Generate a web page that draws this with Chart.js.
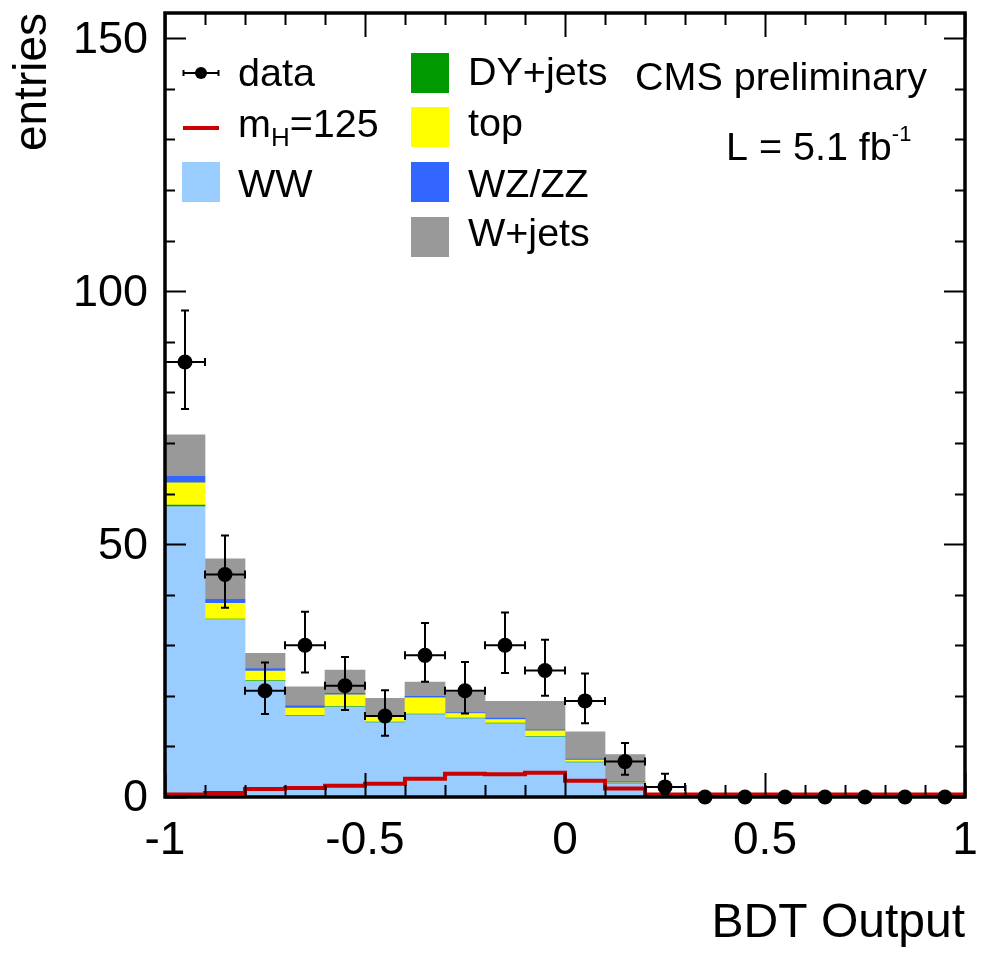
<!DOCTYPE html>
<html>
<head>
<meta charset="utf-8">
<title>BDT Output</title>
<script src="https://cdn.jsdelivr.net/npm/chart.js@4.4.1/dist/chart.umd.min.js"></script>
<style>
  html, body { margin: 0; padding: 0; background: #ffffff; }
  canvas { display: block; }
</style>
</head>
<body>
<canvas id="bdt" width="985" height="953"></canvas>
<script>
// ---- histogram contents: 20 bins of BDT output, width 0.1 ----
const binCenters = [-0.95, -0.85, -0.75, -0.65, -0.55, -0.45, -0.35, -0.25, -0.15, -0.05,
                     0.05,  0.15,  0.25,  0.35,  0.45,  0.55,  0.65,  0.75,  0.85,  0.95];
const binWidth = 0.1;

// observed events and their asymmetric (Poisson) uncertainties
const dataCounts  = [86, 44, 21, 30, 22, 16, 28, 21, 30, 25, 19, 7, 2, 0, 0, 0, 0, 0, 0, 0];
const dataErrUp   = [10.2, 7.7, 5.6, 6.6, 5.7, 5.1, 6.4, 5.7, 6.5, 6.1, 5.4, 3.7, 2.6, 0, 0, 0, 0, 0, 0, 0];
const dataErrDown = [9.3, 6.6, 4.6, 5.4, 4.8, 3.9, 5.2, 4.5, 5.5, 5.0, 4.4, 2.6, 1.4, 0, 0, 0, 0, 0, 0, 0];

// stacked backgrounds (bottom to top)
const wwBkg    = [57.4, 35.1, 22.9, 16.0, 17.8, 14.7, 16.3, 15.5, 14.5, 11.9, 6.8, 2.5, 0.2, 0, 0, 0, 0, 0, 0, 0];
const dyJets   = [0.3, 0.1, 0.1, 0.1, 0.1, 0.1, 0.1, 0.1, 0.1, 0.1, 0.1, 0.1, 0, 0, 0, 0, 0, 0, 0, 0];
const topBkg   = [4.4, 3.1, 1.9, 1.5, 2.3, 1.1, 3.2, 0.9, 0.7, 1.1, 0.4, 0.2, 0, 0, 0, 0, 0, 0, 0, 0];
const wzzzBkg  = [1.3, 0.8, 0.5, 0.4, 0.3, 0.2, 0.3, 0.2, 0.3, 0.2, 0.2, 0.2, 0, 0, 0, 0, 0, 0, 0, 0];
const wJets    = [8.2, 8.0, 3.0, 3.8, 4.6, 3.4, 2.8, 4.0, 3.3, 5.6, 5.4, 5.4, 0, 0, 0, 0, 0, 0, 0, 0];

// Higgs signal, m_H = 125 (drawn as an unstacked outline)
const higgs125 = [0.5, 0.8, 1.6, 1.8, 2.2, 2.6, 3.6, 4.6, 4.5, 4.8, 3.2, 1.7, 0.5, 0.5, 0.5, 0.5, 0.5, 0.5, 0.5, 0.5];

// axis tick labels
const xTickValues = [-1, -0.5, 0, 0.5, 1];
const yTickValues = [0, 50, 100, 150];

const colors = {
  ww: 'rgb(153,204,255)',
  dy: 'rgb(0,153,0)',
  top: 'rgb(255,255,0)',
  wzzz: 'rgb(51,102,255)',
  wjets: 'rgb(153,153,153)',
  higgs: 'rgb(204,0,0)'
};

const FONT = "'Liberation Sans', Arial, Helvetica, sans-serif";
Chart.defaults.font.family = FONT;
Chart.defaults.color = '#000';

const asPoints = arr => arr.map((v, i) => ({ x: binCenters[i], y: v }));

// step outline: one point at each bin's low edge plus the upper edge of the last bin
const higgsSteps = higgs125.map((v, i) => ({ x: binCenters[i] - binWidth / 2, y: v }))
  .concat([{ x: binCenters[binCenters.length - 1] + binWidth / 2, y: higgs125[higgs125.length - 1] }]);

const barSet = (label, values, color) => ({
  type: 'bar', label, data: asPoints(values), backgroundColor: color,
  borderWidth: 0, stack: 'mc', categoryPercentage: 1, barPercentage: 1
});

// error bars for the data points, drawn just beneath the markers
const errorBars = {
  id: 'errorBars',
  beforeDatasetDraw(chart, args) {
    if (chart.data.datasets[args.index].label !== 'data') return;
    const { ctx, scales: { x, y } } = chart;
    const cap = 4;
    ctx.save();
    ctx.strokeStyle = '#000';
    ctx.lineWidth = 2;
    ctx.beginPath();
    binCenters.forEach((c, i) => {
      const n = dataCounts[i];
      if (n <= 0) return;
      const px = x.getPixelForValue(c);
      const py = y.getPixelForValue(n);
      const xl = x.getPixelForValue(c - binWidth / 2);
      const xr = x.getPixelForValue(c + binWidth / 2);
      const yt = y.getPixelForValue(n + dataErrUp[i]);
      const yb = y.getPixelForValue(n - dataErrDown[i]);
      ctx.moveTo(xl, py); ctx.lineTo(xr, py);
      ctx.moveTo(px, yt); ctx.lineTo(px, yb);
      ctx.moveTo(xl, py - cap); ctx.lineTo(xl, py + cap);
      ctx.moveTo(xr, py - cap); ctx.lineTo(xr, py + cap);
      ctx.moveTo(px - cap, yt); ctx.lineTo(px + cap, yt);
      ctx.moveTo(px - cap, yb); ctx.lineTo(px + cap, yb);
    });
    ctx.stroke();
    ctx.restore();
  }
};

// closed frame with inward ticks on all four sides
const frame = {
  id: 'frame',
  afterDatasetsDraw(chart) {
    const { ctx, chartArea: a, scales: { x, y } } = chart;
    ctx.save();
    ctx.strokeStyle = '#000';
    ctx.lineWidth = 2;
    ctx.beginPath();
    for (let k = -10; k <= 10; k++) {
      const px = Math.round(x.getPixelForValue(k / 10)) + 0.5;
      const len = (k % 5 === 0) ? 24 : 12;
      ctx.moveTo(px, a.bottom); ctx.lineTo(px, a.bottom - len);
      ctx.moveTo(px, a.top); ctx.lineTo(px, a.top + len);
    }
    for (let v = 0; v <= 150; v += 10) {
      const py = Math.round(y.getPixelForValue(v)) + 0.5;
      const len = (v % 50 === 0) ? 21 : 10;
      ctx.moveTo(a.left, py); ctx.lineTo(a.left + len, py);
      ctx.moveTo(a.right, py); ctx.lineTo(a.right - len, py);
    }
    ctx.stroke();
    ctx.lineWidth = 3.5;
    ctx.strokeRect(a.left, a.top, a.right - a.left, a.bottom - a.top);
    ctx.restore();
  }
};

// legend and annotation text inside the frame
const legendBox = {
  id: 'legendBox',
  afterDraw(chart) {
    const ctx = chart.ctx;
    ctx.save();
    ctx.fillStyle = '#000';
    ctx.textBaseline = 'alphabetic';
    ctx.textAlign = 'left';
    const big = '39.5px ' + FONT;
    const sub = '26px ' + FONT;
    const sup = '22px ' + FONT;

    // column 1: data marker
    ctx.strokeStyle = '#000';
    ctx.lineWidth = 2;
    ctx.beginPath();
    ctx.moveTo(183, 73); ctx.lineTo(219, 73);
    ctx.moveTo(183.5, 70); ctx.lineTo(183.5, 76);
    ctx.moveTo(218.5, 70); ctx.lineTo(218.5, 76);
    ctx.stroke();
    ctx.beginPath();
    ctx.arc(201, 73, 6, 0, Math.PI * 2);
    ctx.fill();
    ctx.font = big;
    ctx.fillText('data', 238, 86);

    // signal line
    ctx.strokeStyle = colors.higgs;
    ctx.lineWidth = 4;
    ctx.beginPath();
    ctx.moveTo(183, 128); ctx.lineTo(219, 128);
    ctx.stroke();
    ctx.fillText('m', 238, 137);
    let xx = 238 + ctx.measureText('m').width;
    ctx.font = sub;
    ctx.fillText('H', xx, 146);
    xx += ctx.measureText('H').width;
    ctx.font = big;
    ctx.fillText('=125', xx, 137);

    // WW box
    ctx.fillStyle = colors.ww;
    ctx.fillRect(182, 162, 38, 40);
    ctx.fillStyle = '#000';
    ctx.fillText('WW', 238, 197);

    // column 2
    const col2 = [
      { label: 'DY+jets', color: colors.dy, cy: 73, base: 85 },
      { label: 'top', color: colors.top, cy: 127, base: 136 },
      { label: 'WZ/ZZ', color: colors.wzzz, cy: 182, base: 197 },
      { label: 'W+jets', color: colors.wjets, cy: 237, base: 246 }
    ];
    col2.forEach(e => {
      ctx.fillStyle = e.color;
      ctx.fillRect(411, e.cy - 20, 38, 40);
      ctx.fillStyle = '#000';
      ctx.fillText(e.label, 468, e.base);
    });

    // experiment label and luminosity
    ctx.fillText('CMS preliminary', 635, 90);
    const lumi = 'L = 5.1 fb';
    ctx.fillText(lumi, 726, 160);
    const lx = 726 + ctx.measureText(lumi).width;
    ctx.font = sup;
    ctx.fillText('-1', lx, 141);
    ctx.restore();
  }
};

new Chart(document.getElementById('bdt'), {
  type: 'bar',
  data: {
    datasets: [
      {
        type: 'scatter', label: 'data', data: asPoints(dataCounts),
        pointRadius: 7.5, pointHoverRadius: 7.5, pointBackgroundColor: '#000',
        pointBorderWidth: 0, showLine: false, clip: false, stack: 'obs'
      },
      {
        type: 'line', label: 'mH=125', data: higgsSteps, stepped: true,
        borderColor: colors.higgs, borderWidth: 4, pointRadius: 0, fill: false,
        stack: 'sig', borderCapStyle: 'butt', borderJoinStyle: 'miter'
      },
      barSet('WW', wwBkg, colors.ww),
      barSet('DY+jets', dyJets, colors.dy),
      barSet('top', topBkg, colors.top),
      barSet('WZ/ZZ', wzzzBkg, colors.wzzz),
      barSet('W+jets', wJets, colors.wjets)
    ]
  },
  options: {
    responsive: false,
    animation: false,
    devicePixelRatio: 1,
    layout: { padding: { top: 13, right: 20, left: 0, bottom: 0 } },
    plugins: { legend: { display: false }, tooltip: { enabled: false } },
    scales: {
      x: {
        type: 'linear', min: -1, max: 1, offset: false,
        grid: { display: false, drawTicks: false }, border: { display: false },
        afterBuildTicks: s => { s.ticks = xTickValues.map(v => ({ value: v })); },
        afterFit: s => { s.height = 156; s.paddingLeft = 0; s.paddingRight = 0; },
        ticks: { font: { size: 46 }, color: '#000', padding: 17, maxRotation: 0, autoSkip: false,
                 callback: v => String(v) },
        title: { display: true, text: 'BDT Output', align: 'end', color: '#000',
                 font: { size: 48 }, padding: { top: 0, bottom: 0 } }
      },
      y: {
        type: 'linear', min: 0, max: 155, stacked: true,
        grid: { display: false, drawTicks: false }, border: { display: false },
        afterBuildTicks: s => { s.ticks = yTickValues.map(v => ({ value: v })); },
        afterFit: s => { s.width = 165; s.paddingTop = 0; s.paddingBottom = 0; },
        ticks: { font: { size: 45 }, color: '#000', padding: 17, labelOffset: 2,
                 callback: v => String(v) },
        title: { display: true, text: 'entries', align: 'end', color: '#000',
                 font: { size: 46 }, padding: { top: 6, bottom: 0 } }
      }
    }
  },
  plugins: [errorBars, frame, legendBox]
});
</script>
</body>
</html>
